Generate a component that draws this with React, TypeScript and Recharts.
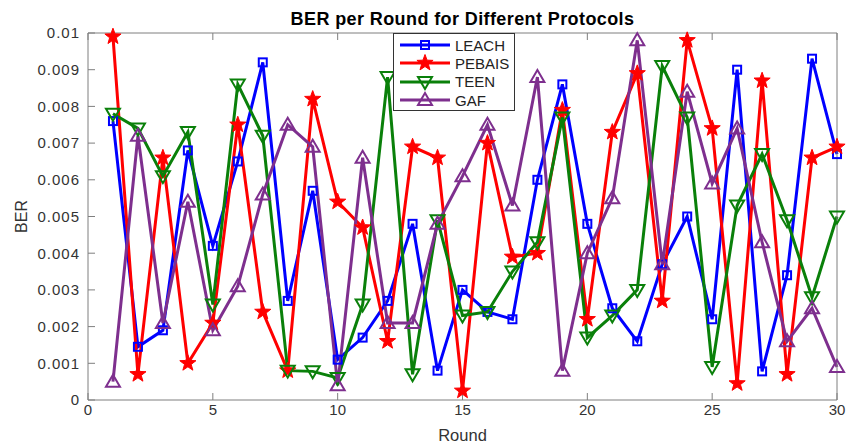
import { LineChart, Line, XAxis, YAxis, Legend, Label } from "recharts";

// BER per round, one array per protocol
const rounds = [
  1, 2, 3, 4, 5, 6, 7, 8, 9, 10, 11, 12, 13, 14, 15, 16, 17, 18, 19, 20, 21,
  22, 23, 24, 25, 26, 27, 28, 29, 30,
];
const leach = [
  0.0076, 0.00145, 0.0019, 0.0068, 0.0042, 0.0065, 0.0092, 0.0027, 0.0057,
  0.0011, 0.0017, 0.0027, 0.0048, 0.0008, 0.003, 0.0024, 0.0022, 0.006,
  0.0086, 0.0048, 0.0025, 0.0016, 0.0037, 0.005, 0.0022, 0.009, 0.00078,
  0.0034, 0.0093, 0.0067,
];
const pebais = [
  0.0099, 0.0007, 0.0066, 0.001, 0.0021, 0.0075, 0.0024, 0.0008, 0.0082,
  0.0054, 0.0047, 0.0016, 0.0069, 0.0066, 0.00025, 0.007, 0.0039, 0.0040,
  0.0079, 0.0022, 0.0073, 0.0089, 0.0027, 0.0098, 0.0074, 0.00045, 0.0087,
  0.0007, 0.0066, 0.0069,
];
const teen = [
  0.0078, 0.0074, 0.0061, 0.0073, 0.0026, 0.0086, 0.0072, 0.0008, 0.00078,
  0.0006, 0.0026, 0.0088, 0.0007, 0.0049, 0.0023, 0.0024, 0.0035, 0.0043,
  0.0077, 0.0017, 0.0023, 0.003, 0.0091, 0.0077, 0.0009, 0.0053, 0.0067,
  0.0049, 0.0028, 0.005,
];
const gaf = [
  0.0005, 0.0072, 0.0021, 0.0054, 0.0019, 0.0031, 0.0056, 0.0075, 0.0069,
  0.0004, 0.0066, 0.0021, 0.0021, 0.0048, 0.0061, 0.0075, 0.0053, 0.0088,
  0.0008, 0.004, 0.0055, 0.0098, 0.0037, 0.0084, 0.0059, 0.0074, 0.0043,
  0.0016, 0.0025, 0.0009,
];

const xTicks = [0, 5, 10, 15, 20, 25, 30];
const yTicks = [
  0, 0.001, 0.002, 0.003, 0.004, 0.005, 0.006, 0.007, 0.008, 0.009, 0.01,
];

const data = rounds.map((r, i) => ({
  round: r,
  LEACH: leach[i],
  PEBAIS: pebais[i],
  TEEN: teen[i],
  GAF: gaf[i],
}));

const FONT = "'Liberation Sans', Arial, sans-serif";
const AXIS = "#7f7f7f";
const TICK_TEXT = "#333";

type Shape = "square" | "star" | "down" | "up";

function Marker({ cx, cy, shape, color }: { cx: number; cy: number; shape: Shape; color: string }) {
  if (shape === "square") {
    return <rect x={cx - 4} y={cy - 4} width={8} height={8} fill="none" stroke={color} strokeWidth={2} />;
  }
  if (shape === "star") {
    const pts: string[] = [];
    for (let k = 0; k < 10; k++) {
      const r = k % 2 === 0 ? 8.5 : 3.5;
      const a = -Math.PI / 2 + (k * Math.PI) / 5;
      pts.push(`${cx + r * Math.cos(a)},${cy + r * Math.sin(a)}`);
    }
    return <polygon points={pts.join(" ")} fill={color} stroke={color} strokeWidth={1} />;
  }
  if (shape === "down") {
    return (
      <polygon
        points={`${cx - 7},${cy - 5} ${cx + 7},${cy - 5} ${cx},${cy + 7}`}
        fill="none"
        stroke={color}
        strokeWidth={2}
      />
    );
  }
  return (
    <polygon
      points={`${cx - 7},${cy + 5} ${cx + 7},${cy + 5} ${cx},${cy - 7}`}
      fill="none"
      stroke={color}
      strokeWidth={2}
    />
  );
}

const series: { key: string; color: string; shape: Shape }[] = [
  { key: "LEACH", color: "#0000ff", shape: "square" },
  { key: "PEBAIS", color: "#ff0000", shape: "star" },
  { key: "TEEN", color: "#0a800a", shape: "down" },
  { key: "GAF", color: "#7e2f8e", shape: "up" },
];

function LegendBox() {
  return (
    <div
      style={{
        border: "1px solid #333",
        background: "#fff",
        padding: "2px 5px 1px 6px",
        fontFamily: FONT,
        fontSize: 15,
        color: "#222",
      }}
    >
      {series.map((s) => (
        <div key={s.key} style={{ display: "flex", alignItems: "center", height: 18.3 }}>
          <svg width={52} height={18} style={{ marginRight: 3 }}>
            <line x1={0} y1={9} x2={50} y2={9} stroke={s.color} strokeWidth={3} />
            <Marker cx={25} cy={9} shape={s.shape} color={s.color} />
          </svg>
          <span>{s.key}</span>
        </div>
      ))}
    </div>
  );
}

export default function App() {
  return (
    <div style={{ position: "absolute", left: 0, top: 0, width: 848, height: 446, background: "#fff" }}>
      <div
        style={{
          position: "absolute",
          left: 88,
          width: 749,
          top: 9,
          textAlign: "center",
          fontFamily: FONT,
          fontWeight: "bold",
          fontSize: 18,
          letterSpacing: 0.4,
          color: "#000",
        }}
      >
        BER per Round for Different Protocols
      </div>
      <LineChart width={848} height={446} data={data} margin={{ top: 32, right: 10, bottom: 0, left: 0 }}>
        <XAxis
          dataKey="round"
          type="number"
          domain={[0, 30]}
          ticks={xTicks}
          height={46}
          stroke={AXIS}
          tickSize={-7}
          tickMargin={11}
          tick={{ fill: TICK_TEXT, fontSize: 15, fontFamily: FONT }}
        >
          <Label value="Round" position="insideBottom" offset={5} fill={TICK_TEXT} fontSize={16.5} fontFamily={FONT} />
        </XAxis>
        <XAxis
          xAxisId="top"
          orientation="top"
          dataKey="round"
          type="number"
          domain={[0, 30]}
          ticks={xTicks}
          height={1}
          stroke={AXIS}
          tickSize={-7}
          tickFormatter={() => ""}
        />
        <YAxis
          type="number"
          domain={[0, 0.01]}
          ticks={yTicks}
          width={88}
          stroke={AXIS}
          tickSize={-7}
          tickMargin={15}
          tick={{ fill: TICK_TEXT, fontSize: 15, fontFamily: FONT, letterSpacing: 1 }}
        >
          <Label
            content={({ viewBox }: any) => {
              const cy = viewBox.y + viewBox.height / 2;
              return (
                <text
                  x={27}
                  y={cy}
                  transform={`rotate(-90, 27, ${cy})`}
                  textAnchor="middle"
                  fill={TICK_TEXT}
                  fontSize={16}
                  fontFamily={FONT}
                >
                  BER
                </text>
              );
            }}
          />
        </YAxis>
        <YAxis
          yAxisId="right"
          orientation="right"
          type="number"
          domain={[0, 0.01]}
          ticks={yTicks}
          width={1}
          stroke={AXIS}
          tickSize={-7}
          tickFormatter={() => ""}
        />
        <Legend
          layout="vertical"
          align="center"
          verticalAlign="middle"
          wrapperStyle={{ left: 393, top: 33, width: "auto", height: "auto" }}
          content={() => <LegendBox />}
        />
        {series.map((s) => (
          <Line
            key={s.key}
            dataKey={s.key}
            type="linear"
            stroke={s.color}
            strokeWidth={3}
            isAnimationActive={false}
            dot={(p: any) => (
              <Marker key={`${s.key}-${p.index}`} cx={p.cx} cy={p.cy} shape={s.shape} color={s.color} />
            )}
            activeDot={false}
          />
        ))}
      </LineChart>
    </div>
  );
}
